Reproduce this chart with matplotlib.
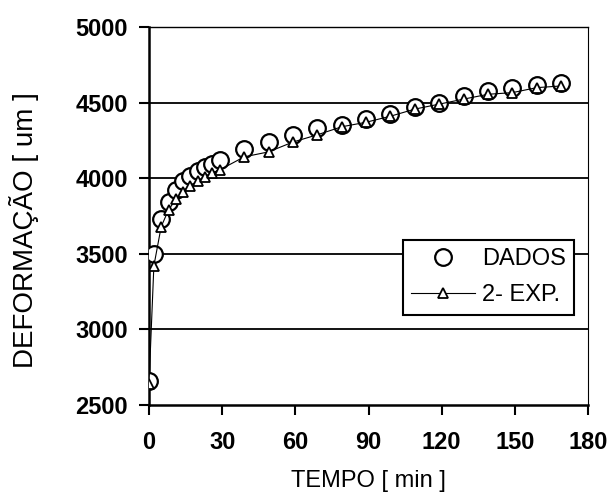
import matplotlib
matplotlib.use("Agg")
from matplotlib import pyplot as plt

plt.rcParams["font.family"] = ["Liberation Sans", "DejaVu Sans"]

# dados medidos
tempo = [0, 2, 5, 8, 11, 14, 17, 20, 23, 26, 29, 39, 49, 59, 69, 79,
         89, 99, 109, 119, 129, 139, 149, 159, 169]
dados = [2660, 3500, 3727, 3842, 3923, 3980, 4012, 4045, 4077, 4097, 4119,
         4196, 4239, 4287, 4331, 4350, 4392, 4424, 4468, 4500, 4544, 4577,
         4599, 4614, 4627]
# ajuste 2 exponenciais
ajuste = [2640, 3420, 3680, 3790, 3860, 3910, 3950, 3980, 4010, 4035, 4055,
          4141, 4174, 4239, 4287, 4340, 4370, 4410, 4457, 4490, 4523, 4555,
          4566, 4599, 4610]

yticks = [2500, 3000, 3500, 4000, 4500, 5000]
xticks = [0, 30, 60, 90, 120, 150, 180]

fig = plt.figure(figsize=(6.15, 4.95), dpi=100)
ax = fig.add_axes([149 / 615, 1 - 405 / 495, 439 / 615, 378 / 495])

for yv in yticks[1:]:
    ax.axhline(yv, color="black", lw=1.3, zorder=1)

ax.plot(tempo, dados, "o", ms=12, mfc="white", mec="black", mew=1.6,
        zorder=3, label="DADOS")
ax.plot(tempo, ajuste, "-^", ms=7, mfc="white", mec="black", mew=1.3,
        color="black", lw=0.8, zorder=4, label="2- EXP.")

ax.set_xlim(0, 180)
ax.set_ylim(2500, 5000)
ax.set_xticks(xticks)
ax.set_yticks(yticks)
ax.tick_params(direction="out", length=7, width=1.5, labelsize=17)
ax.tick_params(axis="x", pad=12)
ax.tick_params(axis="y", pad=8)
for lab in ax.get_xticklabels() + ax.get_yticklabels():
    lab.set_fontweight("bold")
for s in ["left", "bottom"]:
    ax.spines[s].set_linewidth(1.8)
ax.spines["right"].set_linewidth(0.8)
ax.spines["right"].set_linestyle((0, (2, 1)))
ax.spines["top"].set_linewidth(1.0)
ax.spines["top"].set_linestyle((0, (3, 1)))

ax.set_xlabel("TEMPO [ min ]", fontsize=17, labelpad=11)
ax.set_ylabel("DEFORMAÇÃO [ um ]", fontsize=20)
ax.yaxis.set_label_coords(-0.25, 0.463)

leg = ax.legend(loc="upper left", bbox_to_anchor=(0.579, 0.4365),
                borderaxespad=0, fontsize=17, frameon=True, fancybox=False,
                edgecolor="black", framealpha=1, borderpad=0.35,
                handlelength=2.7, handletextpad=0.3, labelspacing=0.6)
leg.get_frame().set_linewidth(1.5)
leg.set_zorder(5)

fig.savefig("out.png", dpi=100)
